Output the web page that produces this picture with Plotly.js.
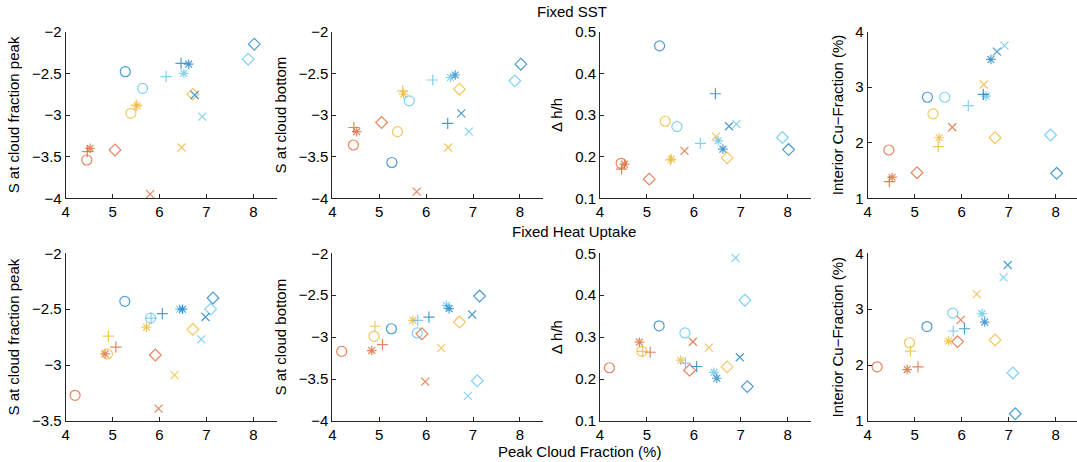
<!DOCTYPE html>
<html>
<head>
<meta charset="utf-8">
<script src="https://cdn.plot.ly/plotly-3.0.1.min.js"></script>
<style>html,body{margin:0;padding:0;background:#fff;}#chart{width:1077px;height:462px;}</style>
</head>
<body>
<div id="chart"></div>
<script>
// Marker order within each series: circle, asterisk, plus, x, diamond
const seriesNames = ["red", "orange", "lightblue", "darkblue"];
const seriesColors = ["#D95319", "#EDB120", "#4DBEEE", "#0072BD"];

// ---- Fixed SST ----
const sstX_red       = [4.45, 4.52, 4.46, 5.80, 5.05];
const sstX_orange    = [5.39, 5.52, 5.50, 6.47, 6.71];
const sstX_lightblue = [5.64, 6.52, 6.14, 6.91, 7.89];
const sstX_darkblue  = [5.27, 6.62, 6.46, 6.75, 8.02];

const sstSpeak_red       = [-3.54, -3.40, -3.44, -3.95, -3.42];
const sstSpeak_orange    = [-2.98, -2.89, -2.88, -3.39, -2.75];
const sstSpeak_lightblue = [-2.68, -2.50, -2.54, -3.02, -2.33];
const sstSpeak_darkblue  = [-2.48, -2.39, -2.38, -2.76, -2.15];

const sstSbot_red       = [-3.36, -3.20, -3.15, -3.92, -3.09];
const sstSbot_orange    = [-3.20, -2.75, -2.71, -3.39, -2.69];
const sstSbot_lightblue = [-2.83, -2.55, -2.58, -3.20, -2.59];
const sstSbot_darkblue  = [-3.57, -2.52, -3.10, -2.98, -2.39];

const sstDh_red       = [0.184, 0.182, 0.170, 0.214, 0.146];
const sstDh_orange    = [0.285, 0.194, 0.192, 0.248, 0.197];
const sstDh_lightblue = [0.272, 0.238, 0.232, 0.278, 0.246];
const sstDh_darkblue  = [0.466, 0.218, 0.351, 0.273, 0.217];

const sstCu_red       = [1.87, 1.38, 1.30, 2.28, 1.46];
const sstCu_orange    = [2.52, 2.09, 1.93, 3.05, 2.09];
const sstCu_lightblue = [2.82, 2.84, 2.67, 3.75, 2.14];
const sstCu_darkblue  = [2.82, 3.50, 2.87, 3.64, 1.45];

// ---- Fixed Heat Uptake ----
const hX_red       = [4.20, 4.84, 5.07, 5.98, 5.91];
const hX_orange    = [4.89, 5.72, 4.91, 6.32, 6.71];
const hX_lightblue = [5.81, 6.43, 5.82, 6.89, 7.09];
const hX_darkblue  = [5.26, 6.49, 6.06, 6.98, 7.14];

const hSpeak_red       = [-3.27, -2.90, -2.84, -3.39, -2.91];
const hSpeak_orange    = [-2.90, -2.66, -2.74, -3.09, -2.68];
const hSpeak_lightblue = [-2.58, -2.50, -2.58, -2.77, -2.50];
const hSpeak_darkblue  = [-2.43, -2.50, -2.54, -2.57, -2.40];

const hSbot_red       = [-3.17, -3.16, -3.09, -3.53, -2.96];
const hSbot_orange    = [-2.99, -2.80, -2.87, -3.13, -2.82];
const hSbot_lightblue = [-2.95, -2.62, -2.80, -3.70, -3.52];
const hSbot_darkblue  = [-2.90, -2.66, -2.76, -2.73, -2.51];

const hDh_red       = [0.227, 0.288, 0.264, 0.289, 0.221];
const hDh_orange    = [0.266, 0.245, 0.266, 0.275, 0.229];
const hDh_lightblue = [0.310, 0.216, 0.238, 0.489, 0.388];
const hDh_darkblue  = [0.327, 0.202, 0.230, 0.252, 0.182];

const hCu_red       = [1.97, 1.92, 1.97, 2.81, 2.42];
const hCu_orange    = [2.40, 2.43, 2.25, 3.27, 2.45];
const hCu_lightblue = [2.93, 2.92, 2.61, 3.57, 1.86];
const hCu_darkblue  = [2.69, 2.77, 2.65, 3.79, 1.13];

const xTicks = [4, 5, 6, 7, 8];
const yTitles = ["S at cloud fraction peak", "S at cloud bottom", "\u0394 h/h", "Interior Cu\u2212Fraction (%)"];
const rowTitles = ["Fixed SST", "Fixed Heat Uptake"];
const xTitle = "Peak Cloud Fraction (%)";

const rows = [
  {
    x: [sstX_red, sstX_orange, sstX_lightblue, sstX_darkblue],
    panels: [
      [sstSpeak_red, sstSpeak_orange, sstSpeak_lightblue, sstSpeak_darkblue],
      [sstSbot_red, sstSbot_orange, sstSbot_lightblue, sstSbot_darkblue],
      [sstDh_red, sstDh_orange, sstDh_lightblue, sstDh_darkblue],
      [sstCu_red, sstCu_orange, sstCu_lightblue, sstCu_darkblue]
    ],
    yr: [[-4, -2], [-4, -2], [0.1, 0.5], [1, 4]],
    yt: [[-4, -3.5, -3, -2.5, -2], [-4, -3.5, -3, -2.5, -2], [0.1, 0.2, 0.3, 0.4, 0.5], [1, 2, 3, 4]]
  },
  {
    x: [hX_red, hX_orange, hX_lightblue, hX_darkblue],
    panels: [
      [hSpeak_red, hSpeak_orange, hSpeak_lightblue, hSpeak_darkblue],
      [hSbot_red, hSbot_orange, hSbot_lightblue, hSbot_darkblue],
      [hDh_red, hDh_orange, hDh_lightblue, hDh_darkblue],
      [hCu_red, hCu_orange, hCu_lightblue, hCu_darkblue]
    ],
    yr: [[-3.5, -2], [-4, -2], [0.1, 0.5], [1, 4]],
    yt: [[-3.5, -3, -2.5, -2], [-4, -3.5, -3, -2.5, -2], [0.1, 0.2, 0.3, 0.4, 0.5], [1, 2, 3, 4]]
  }
];

const symbols = ["circle-open", "asterisk-open", "cross-thin-open", "x-thin-open", "diamond-open"];
const sizes = [10, 8, 8, 8, 9];

const W = 1077, H = 462;
const colPx = [[65.7, 276.8], [332.3, 543.4], [600, 811.1], [867.7, 1077]];
const colRange = [[4, 8.5], [4, 8.5], [4, 8.5], [4, 8.453]];
const rowPx = [[31.7, 198.3], [253.3, 421]];

const data = [];
const layout = {
  width: W, height: H,
  margin: {l: 0, r: 0, t: 0, b: 0},
  paper_bgcolor: "#fff", plot_bgcolor: "#fff",
  showlegend: false,
  font: {family: "Liberation Sans, Arial, sans-serif", size: 15, color: "#262626"},
  annotations: []
};

const txt = "#262626";
rows.forEach((row, r) => {
  row.panels.forEach((panel, c) => {
    const idx = r * 4 + c + 1;
    const xa = "x" + idx, ya = "y" + idx;
    panel.forEach((yvals, s) => {
      data.push({
        type: "scatter", mode: "markers",
        name: seriesNames[s],
        x: row.x[s], y: yvals,
        xaxis: xa, yaxis: ya,
        cliponaxis: false,
        marker: {symbol: symbols, size: sizes, color: seriesColors[s],
                 line: {color: seriesColors[s], width: 1.2}},
        hoverinfo: "x+y"
      });
    });
    const xk = "xaxis" + idx, yk = "yaxis" + idx;
    layout[xk] = {
      domain: [colPx[c][0] / W, colPx[c][1] / W],
      range: colRange[c], anchor: ya,
      tickvals: xTicks, ticktext: xTicks.map(String),
      ticks: "inside", ticklen: 4, tickwidth: 1, tickcolor: txt,
      showline: true, linecolor: txt, linewidth: 1,
      showgrid: false, zeroline: false,
      tickfont: {size: 15, color: "#000"}
    };
    layout[yk] = {
      domain: [1 - rowPx[r][1] / H, 1 - rowPx[r][0] / H],
      range: row.yr[c], anchor: xa,
      tickvals: row.yt[c],
      ticks: "inside", ticklen: 4, tickwidth: 1, tickcolor: txt,
      showline: true, linecolor: txt, linewidth: 1,
      showgrid: false, zeroline: false,
      tickfont: {size: 15, color: "#000"},
      title: {text: yTitles[c], font: {size: 15, color: "#000"}, standoff: 8}
    };
  });
});

layout.annotations.push(
  {text: rowTitles[0], x: 572 / W, y: 1 - 11 / H, xref: "paper", yref: "paper",
   showarrow: false, xanchor: "center", yanchor: "middle", font: {size: 15, color: "#000"}},
  {text: rowTitles[1], x: 574 / W, y: 1 - 231 / H, xref: "paper", yref: "paper",
   showarrow: false, xanchor: "center", yanchor: "middle", font: {size: 15, color: "#000"}},
  {text: xTitle, x: 579 / W, y: 1 - 451 / H, xref: "paper", yref: "paper",
   showarrow: false, xanchor: "center", yanchor: "middle", font: {size: 15, color: "#000"}}
);

Plotly.newPlot("chart", data, layout, {staticPlot: true});
</script>
</body>
</html>
